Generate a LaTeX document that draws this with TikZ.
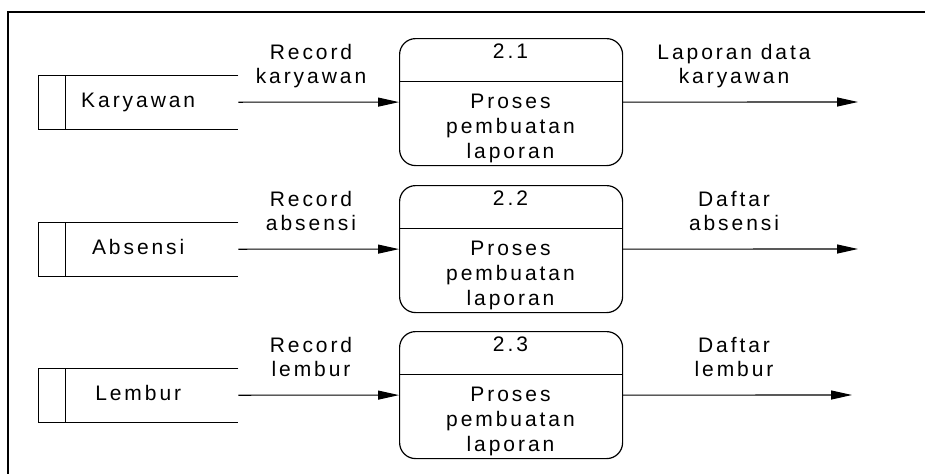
\documentclass[tikz,border=0pt]{standalone}
\usepackage{fontspec}
\setmainfont{Liberation Sans}[LetterSpace=14]
\usetikzlibrary{arrows.meta}
\begin{document}
\begin{tikzpicture}[x=1pt,y=-1pt,
  lbl/.style={font=\fontsize{21}{25}\selectfont, anchor=base, inner sep=0pt},
  proc/.style={draw, line width=1.2pt, rounded corners=16pt, minimum width=223pt,
    minimum height=127pt, inner sep=0pt, anchor=north west},
  store/.style={minimum width=200pt, minimum height=54pt, inner sep=0pt, anchor=north west,
    font=\fontsize{21}{25}\selectfont, text height=15pt, text depth=4pt},
  ln/.style={line width=1pt},
  flow/.style={line width=1.1pt, -{Triangle[length=21pt,width=9pt]}},
  frame/.style={line width=2.6pt}]
\useasboundingbox (0,0) rectangle (925,474);
\coordinate (f1) at (925,12);
\coordinate (f2) at (8,12);
\coordinate (f3) at (8,474);
\draw[frame] (f1) -- (f2) -- (f3);
\foreach \i/\T/\st/\ia/\ib/\oa/\ob/\ox in {%
  1/38/Karyawan/Record/karyawan/Laporan data/karyawan/858,%
  2/185/Absensi/Record/absensi/Daftar/absensi/858,%
  3/331/Lembur/Record/lembur/Daftar/lembur/852}{
  \node[store] (s\i) at (38,\T+37) {\st};
  \draw[ln] (s\i.north east) -- (s\i.north west) -- (s\i.south west) -- (s\i.south east);
  \draw[ln] ([xshift=27pt]s\i.north west) -- ([xshift=27pt]s\i.south west);
  \node[proc] (p\i) at (399,\T) {};
  \draw[ln] ([yshift=-43pt]p\i.north west) -- ([yshift=-43pt]p\i.north east);
  \node[lbl] (n\i) at (510.5,\T+20) {2.\i};
  \node[lbl] (a\i) at (510.5,\T+70) {Proses};
  \node[lbl] (b\i) at (510.5,\T+95) {pembuatan};
  \node[lbl] (c\i) at (510.5,\T+120) {laporan};
  \coordinate (o\i) at (\ox,\T+64);
  \draw[flow] (s\i.east) -- (p\i.west);
  \draw[flow] (p\i.east) -- (o\i);
  \node[lbl] (ia\i) at (311,\T+21) {\ia};
  \node[lbl] (ib\i) at (311,\T+45) {\ib};
  \node[lbl] (oa\i) at (734,\T+21) {\oa};
  \node[lbl] (ob\i) at (734,\T+45) {\ob};
}
\end{tikzpicture}
\end{document}
